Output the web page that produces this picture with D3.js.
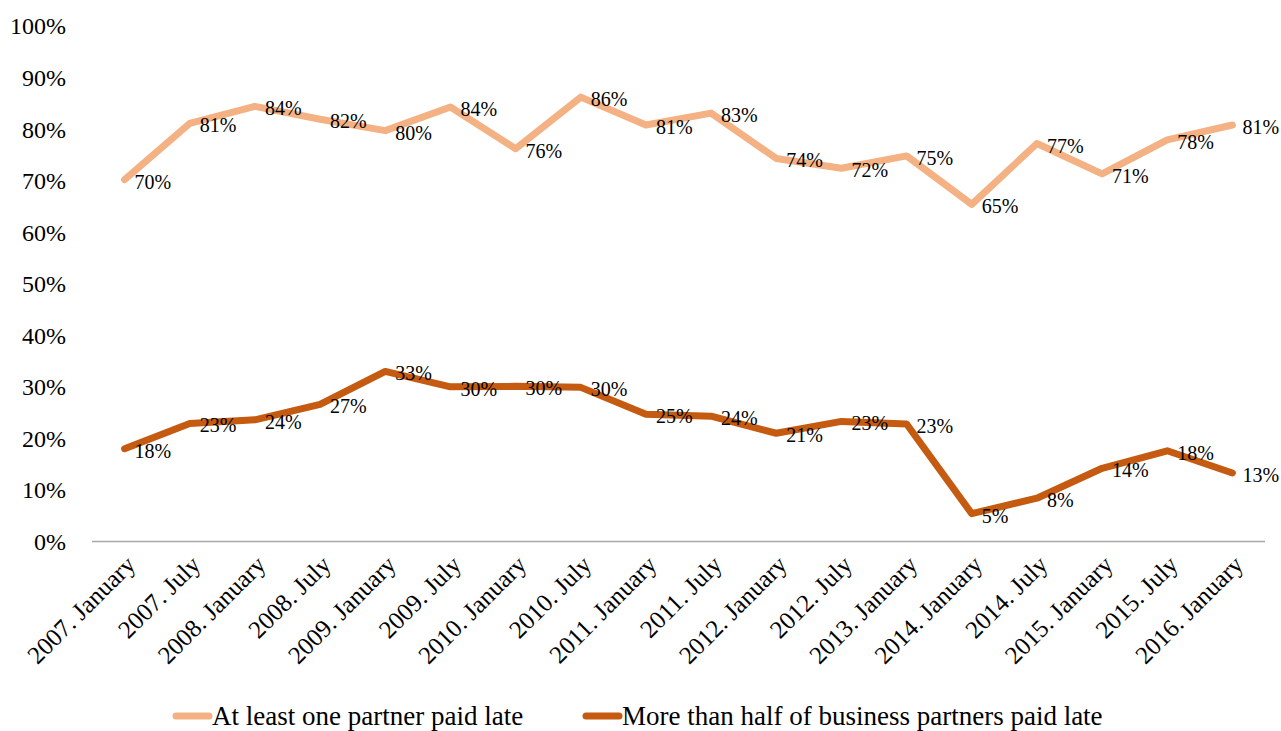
<!DOCTYPE html>
<html>
<head>
<meta charset="utf-8">
<script src="https://cdn.jsdelivr.net/npm/d3@7"></script>
<style>
  body { margin: 0; background: #fff; }
  text { font-family: "Palatino Linotype", "Book Antiqua", Palatino, "Liberation Serif", serif; fill: #000; }
</style>
</head>
<body>
<div id="chart"></div>
<script>
// categories (survey waves)
const periods = [
    "2007. January", "2007. July", "2008. January", "2008. July", "2009. January", "2009. July",
    "2010. January", "2010. July", "2011. January", "2011. July", "2012. January", "2012. July",
    "2013. January", "2014. January", "2014. July", "2015. January", "2015. July", "2016. January"
];

// series values in %
const atLeastOne = [70.2, 81.1, 84.4, 81.9, 79.7, 84.3, 76.2, 86.2, 80.8, 83.1, 74.3, 72.4,
                    74.8, 65.4, 77.2, 71.3, 77.9, 80.8];
const moreThanHalf = [18.0, 22.9, 23.6, 26.6, 33.0, 30.0, 30.1, 29.9, 24.7, 24.3, 21.0, 23.3,
                      22.8, 5.4, 8.4, 14.2, 17.6, 13.3];

const seriesNames = ["At least one partner paid late", "More than half of business partners paid late"];
const seriesColors = ["#F4B183", "#C55A11"];
const yTicks = [0, 10, 20, 30, 40, 50, 60, 70, 80, 90, 100];

function drawChart() {
    const width = 1281, height = 731;
    const margin = {top: 26, right: 16, bottom: 190, left: 92};

    const svg = d3.select("#chart").append("svg")
        .attr("width", width)
        .attr("height", height);

    const x = d3.scalePoint()
        .domain(periods)
        .range([margin.left, width - margin.right])
        .padding(0.5);

    // 0% sits on the baseline at ~541
    const y = d3.scaleLinear()
        .domain([0, 100])
        .range([541.5, margin.top]);

    // Y axis labels (no line, no ticks)
    svg.append("g")
        .selectAll("text")
        .data(yTicks)
        .enter()
        .append("text")
        .attr("x", 66)
        .attr("y", d => y(d))
        .attr("dy", "0.35em")
        .attr("text-anchor", "end")
        .style("font-size", "24px")
        .text(d => d + "%");

    // X axis baseline
    svg.append("line")
        .attr("x1", margin.left)
        .attr("x2", width - margin.right)
        .attr("y1", y(0))
        .attr("y2", y(0))
        .attr("stroke", "#a6a6a6")
        .attr("stroke-width", 1.3);

    // X labels, rotated
    svg.append("g")
        .selectAll("text")
        .data(periods)
        .enter()
        .append("text")
        .attr("transform", d => "translate(" + (x(d) + 6) + "," + 560 + ") rotate(-45)")
        .attr("text-anchor", "end")
        .attr("dy", "0.35em")
        .style("font-size", "25px")
        .text(d => d);

    const allSeries = [atLeastOne, moreThanHalf];

    const line = d3.line()
        .x((d, i) => x(periods[i]))
        .y(d => y(d));

    allSeries.forEach(function(values, s) {
        svg.append("path")
            .datum(values)
            .attr("fill", "none")
            .attr("stroke", seriesColors[s])
            .attr("stroke-width", 7)
            .attr("stroke-linejoin", "round")
            .attr("stroke-linecap", "round")
            .attr("d", line);
    });

    // data labels, right of each point
    allSeries.forEach(function(values, s) {
        svg.append("g")
            .selectAll("text")
            .data(values)
            .enter()
            .append("text")
            .attr("x", (d, i) => x(periods[i]) + 10)
            .attr("y", d => y(d) + 2)
            .attr("dy", "0.35em")
            .style("font-size", "20px")
            .text(d => Math.round(d) + "%");
    });

    // Legend
    const legendX = [173, 583];
    const legend = svg.append("g")
        .selectAll("g")
        .data(seriesNames)
        .enter()
        .append("g")
        .attr("transform", (d, i) => "translate(" + legendX[i] + ",716)");

    legend.append("line")
        .attr("x1", 3).attr("x2", 36)
        .attr("y1", 0).attr("y2", 0)
        .attr("stroke", (d, i) => seriesColors[i])
        .attr("stroke-width", 7)
        .attr("stroke-linecap", "round");

    legend.append("text")
        .attr("x", 39)
        .attr("y", 0)
        .attr("dy", "0.35em")
        .style("font-size", "27px")
        .text(d => d);
}

drawChart();
</script>
</body>
</html>
